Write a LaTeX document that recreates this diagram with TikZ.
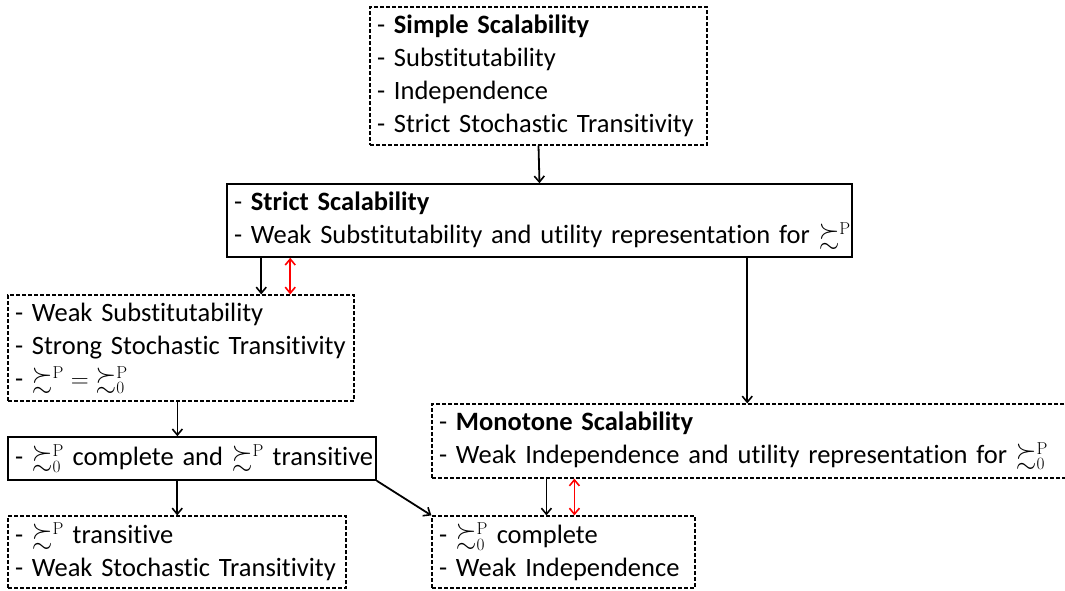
\documentclass[tikz,border=0pt]{standalone}
\usepackage{amssymb}
\usepackage[no-math]{fontspec}
\setmainfont{Carlito}[Ligatures=NoCommon]
\usetikzlibrary{arrows.meta,calc}
\newcommand{\pref}{{\succsim^{\mathrm{P}}}}
\newcommand{\prefz}{{\succsim^{\mathrm{P}}_{0}}}
\newcommand{\boxfont}{\fontsize{26.5}{33}\selectfont\spaceskip=5pt plus 1pt minus 1pt\relax}
\begin{document}
\begin{tikzpicture}[x=1pt,y=-1pt,
  box/.style={draw=black,line width=1.5pt,rectangle,inner xsep=7pt,inner ysep=0pt,
    align=left,font=\boxfont,anchor=center},
  dbox/.style={box,dash pattern=on 4pt off 2pt,line width=1.2pt},
  arr/.style={line width=1.8pt,-{Straight Barb[length=6pt,width=10pt,line width=1.6pt]}},
  rarr/.style={line width=1.8pt,red,{Straight Barb[length=6pt,width=10pt,line width=1.6pt]}-{Straight Barb[length=6pt,width=10pt,line width=1.6pt]}}]
\useasboundingbox (0,0) rectangle (1065,590);
\fill[white] (0,0) rectangle (1065,590);
\node[dbox,text width=323pt,minimum height=138pt] (top) at (538.5,76)
  {- \textbf{Simple Scalability}\\- Substitutability\\- Independence\\\mbox{- Strict Stochastic Transitivity}};
\node[box,text width=611pt,minimum height=73pt] (strict) at (539.5,220.5)
  {- \textbf{Strict Scalability}\\\mbox{- Weak Substitutability and utility representation for $\pref$}};
\node[dbox,text width=332pt,minimum height=106pt] (ws) at (181,348)
  {- Weak Substitutability\\\mbox{- Strong Stochastic Transitivity}\\- $\pref = \prefz$};
\node[box,text width=354pt,minimum height=43pt] (comp) at (192,458.5)
  {\mbox{- $\prefz$ complete and $\pref$ transitive}};
\node[dbox,text width=324pt,minimum height=72pt] (bl) at (177,552)
  {- $\pref$ transitive\\\mbox{- Weak Stochastic Transitivity}};
\node[dbox,text width=634pt,minimum height=74pt] (mono) at (756,441)
  {- \textbf{Monotone Scalability}\\\mbox{- Weak Independence and utility representation for $\prefz$}};
\node[dbox,text width=249pt,minimum height=72pt] (br) at (563.5,552)
  {- $\prefz$ complete\\- Weak Independence};
\draw[arr] (top.south) -- (strict.north);
\draw[arr] ([xshift=35pt]strict.south west) -- ([xshift=35pt]strict.south west |- ws.north);
\draw[rarr] ([xshift=64pt]strict.south west) -- ([xshift=64pt]strict.south west |- ws.north);
\draw[arr] ([xshift=521pt]strict.south west) -- ([xshift=521pt]strict.south west |- mono.north);
\draw[arr] ([xshift=170pt]ws.south west) -- ([xshift=170pt]ws.south west |- comp.north);
\draw[arr] ([xshift=170pt]comp.south west) -- ([xshift=170pt]comp.south west |- bl.north);
\draw[arr] (comp.south east) -- (br.north west);
\draw[arr] ([xshift=115pt]mono.south west) -- ([xshift=115pt]mono.south west |- br.north);
\draw[rarr] ([xshift=143pt]mono.south west) -- ([xshift=143pt]mono.south west |- br.north);
\end{tikzpicture}
\end{document}
